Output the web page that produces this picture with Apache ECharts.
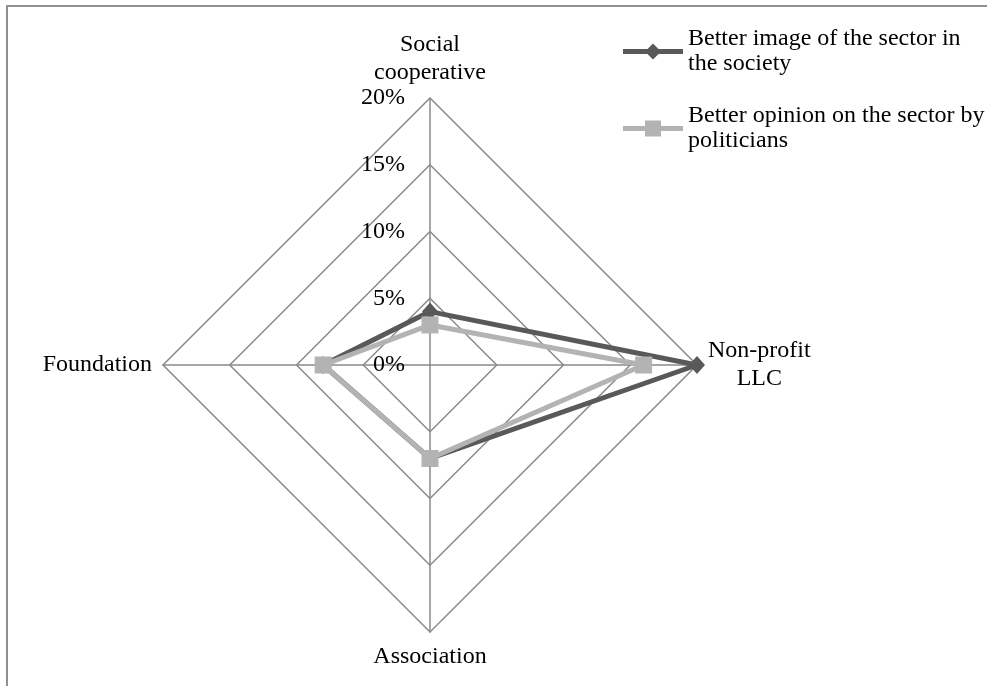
<!DOCTYPE html>
<html>
<head>
<meta charset="utf-8">
<script src="https://cdn.jsdelivr.net/npm/echarts@6/dist/echarts.min.js"></script>
<style>
  html, body { margin: 0; padding: 0; background: #fff; }
  #frame { position: absolute; left: 6px; top: 5px; width: 1200px; height: 900px;
           border-left: 2px solid #8f8f8f; border-top: 2px solid #8f8f8f; }
  #main { position: absolute; left: 0; top: 0; width: 987px; height: 686px; }
</style>
</head>
<body>
<div id="frame"></div>
<div id="main"></div>
<script>
// radar goes counter-clockwise from the top
var categories = ['Social\ncooperative', 'Foundation', 'Association', 'Non-profit\nLLC'];
var seriesNames = ['Better image of the sector in\nthe society', 'Better opinion on the sector by\npoliticians'];
var imageSociety = [4, 8, 7, 20];
var opinionPoliticians = [3, 8, 7, 16];
var axisMax = 20;

var FONT = 'Liberation Serif';
var chart = echarts.init(document.getElementById('main'));

var indicator = categories.map(function (c, i) {
  var ind = { name: c, min: 0, max: axisMax };
  if (i === 0) {
    ind.axisLabel = {
      show: true,
      formatter: '{value}%',
      color: '#000',
      fontFamily: FONT,
      fontSize: 24,
      margin: 25
    };
  }
  return ind;
});

// legend icons: thick line with the marker in the middle
var diamondIcon = 'path://M0,5.5 H24.5 L30,0 L35.5,5.5 H60 V10.5 H35.5 L30,16 L24.5,10.5 H0 Z';
var squareIcon = 'path://M0,5.5 H22 V0 H38 V5.5 H60 V10.5 H38 V16 H22 V10.5 H0 Z';

function legendOpt(name, icon, color, top) {
  return {
    data: [{ name: name, icon: icon, itemStyle: { color: color } }],
    left: 623,
    top: top,
    padding: 0,
    itemWidth: 60,
    itemHeight: 16,
    selectedMode: false,
    textStyle: {
      color: '#000',
      fontFamily: FONT,
      fontSize: 24,
      lineHeight: 25,
      padding: [25, 0, 0, 0]
    }
  };
}

chart.setOption({
  animation: false,
  legend: [
    legendOpt(seriesNames[0], diamondIcon, '#595959', 14),
    legendOpt(seriesNames[1], squareIcon, '#b3b3b3', 91)
  ],
  radar: {
    center: [430, 365],
    radius: 267,
    shape: 'polygon',
    splitNumber: 4,
    indicator: indicator,
    nameGap: 11,
    axisName: {
      color: '#000',
      fontFamily: FONT,
      fontSize: 24,
      formatter: function (name) {
        return name.split('\n').map(function (s) { return '{c|' + s + '}'; }).join('\n');
      },
      rich: {
        c: { align: 'center', fontFamily: FONT, fontSize: 24, lineHeight: 28, color: '#000' }
      }
    },
    axisLine: { lineStyle: { color: '#8a8a8a', width: 1.5 } },
    splitLine: { lineStyle: { color: '#8a8a8a', width: 1.5 } },
    splitArea: { show: false },
    axisLabel: { show: false },
    axisTick: { show: false }
  },
  series: [
    {
      type: 'radar',
      name: seriesNames[0],
      symbol: 'diamond',
      symbolSize: [16, 18],
      lineStyle: { color: '#595959', width: 5 },
      itemStyle: { color: '#595959' },
      data: [{ name: seriesNames[0], value: imageSociety }]
    },
    {
      type: 'radar',
      name: seriesNames[1],
      symbol: 'rect',
      symbolSize: 17,
      lineStyle: { color: '#b3b3b3', width: 5 },
      itemStyle: { color: '#b3b3b3' },
      data: [{ name: seriesNames[1], value: opinionPoliticians }]
    }
  ]
});
</script>
</body>
</html>
